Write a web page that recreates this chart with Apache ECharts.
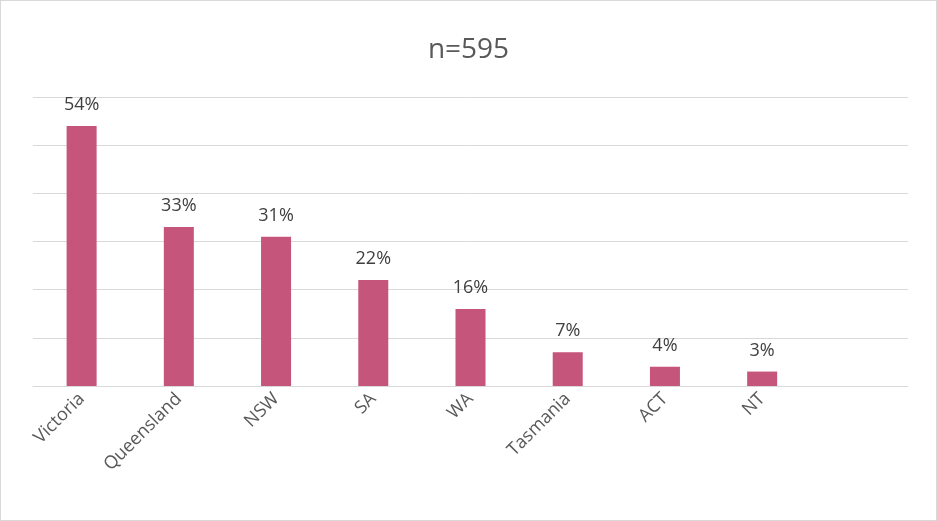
<!DOCTYPE html>
<html><head><meta charset="utf-8">
<script src="https://cdn.jsdelivr.net/npm/echarts@6/dist/echarts.min.js"></script>
<style>html,body{margin:0;padding:0;background:#fff}#c{width:935px;height:519px;border:1px solid #d9d9d9}</style>
</head><body><div id="c"></div>
<script>
const categories = ["Victoria","Queensland","NSW","SA","WA","Tasmania","ACT","NT",""];
const values = [54,33,31,22,16,7,4,3,null];
const chart = echarts.init(document.getElementById('c'));
chart.setOption({
  animation:false,
  title:{text:"n=595",left:'center',top:30,textStyle:{fontFamily:'Open Sans',fontSize:28,fontWeight:'normal',color:'#595959'}},
  grid:{left:32,right:28,top:96,bottom:134,containLabel:false},
  xAxis:{type:'category',data:categories,axisTick:{show:false},
    axisLine:{lineStyle:{color:'#d9d9d9'}},
    axisLabel:{rotate:45,interval:0,fontFamily:'Open Sans',fontSize:18,color:'#595959',margin:10}},
  yAxis:{type:'value',min:0,max:60,interval:10,axisLabel:{show:false},axisLine:{show:false},axisTick:{show:false},
    splitLine:{lineStyle:{color:'#d9d9d9'}}},
  series:[{type:'bar',data:values,barWidth:30,itemStyle:{color:'#C5557B'},
    label:{show:true,position:'top',distance:12,formatter:'{c}%',fontFamily:'Open Sans',fontSize:18,color:'#404040'}}]
});
</script></body></html>
